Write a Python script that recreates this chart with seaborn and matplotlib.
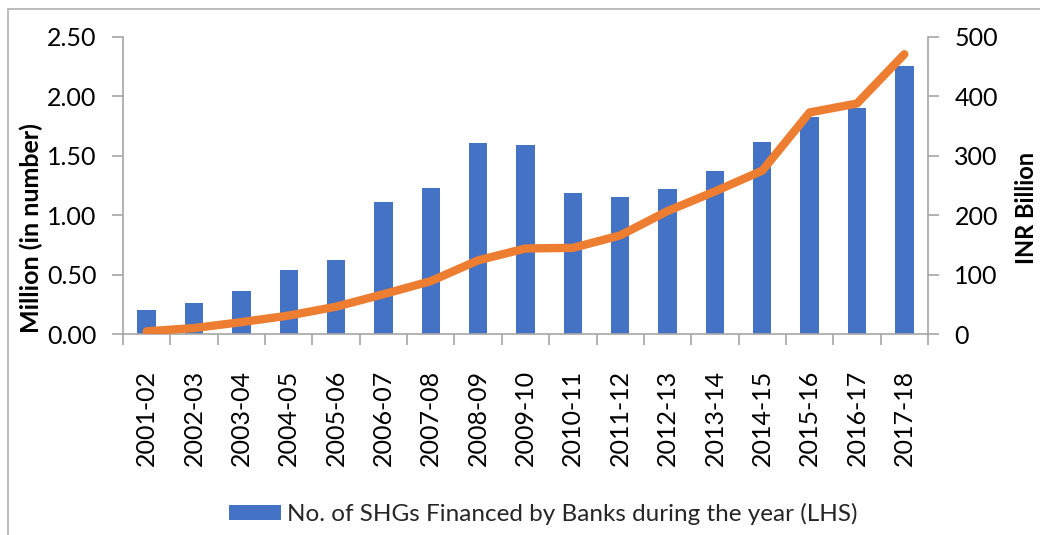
import numpy as np
import pandas as pd
import matplotlib
matplotlib.use("Agg")
import matplotlib.pyplot as plt
import seaborn as sns
from matplotlib.patches import Patch, Rectangle
from matplotlib.ticker import FixedLocator, FormatStrFormatter

# ---- data ----
years = ["2001-02", "2002-03", "2003-04", "2004-05", "2005-06", "2006-07",
         "2007-08", "2008-09", "2009-10", "2010-11", "2011-12", "2012-13",
         "2013-14", "2014-15", "2015-16", "2016-17", "2017-18"]
shgs_million = [0.20, 0.26, 0.36, 0.54, 0.62, 1.11, 1.23, 1.61, 1.59, 1.19,
                1.15, 1.22, 1.37, 1.62, 1.83, 1.90, 2.26]
loans_inr_billion = [4.5, 10, 20, 31, 46, 67, 89, 124, 144, 145,
                     166, 207, 240, 275, 373, 388, 471]
left_ticks = [0.0, 0.5, 1.0, 1.5, 2.0, 2.5]
right_ticks = [0, 100, 200, 300, 400, 500]
left_label = "Million (in number)"
right_label = "INR Billion"
legend_label = "No. of SHGs Financed by Banks during the year (LHS)"

BAR = "#4472C4"
LINE = "#ED7D31"
AXC = "#a6a6a6"

sns.set_theme(style="white")
plt.rcParams['font.family'] = ['Lato', 'DejaVu Sans']

W, H = 1040, 535
fig = plt.figure(figsize=(W / 100, H / 100), dpi=100)
fig.patch.set_facecolor("white")

x0, x1, ytop, ybot = 123, 928, 37, 334
ax = fig.add_axes([x0 / W, 1 - ybot / H, (x1 - x0) / W, (ybot - ytop) / H])

df = pd.DataFrame({"year": years, "shg": shgs_million, "loan": loans_inr_billion})
df["pos"] = np.arange(len(df))

sns.barplot(data=df, x="year", y="shg", ax=ax, color=BAR, saturation=1,
            width=0.39, linewidth=0)

ax2 = ax.twinx()
sns.lineplot(data=df, x="pos", y="loan", ax=ax2, color=LINE, linewidth=6,
             sort=False, solid_capstyle="round", solid_joinstyle="round")

n = len(years)
ax.set_xlim(-0.5, n - 0.5)
ax.set_ylim(0, 2.5)
ax2.set_ylim(0, 500)

ax.set_yticks(left_ticks)
ax.yaxis.set_major_formatter(FormatStrFormatter("%.2f"))
ax2.set_yticks(right_ticks)

ax.set_xticks(np.arange(n))
ax.set_xticklabels(years, rotation=90)
ax.xaxis.set_minor_locator(FixedLocator(np.arange(-0.5, n, 1.0)))

tick_fs = 18
ax.tick_params(axis="x", which="major", length=0, pad=26, labelsize=tick_fs,
               colors="black")
ax.tick_params(axis="x", which="minor", length=8, width=1.2, color=AXC,
               direction="out", bottom=True)
ax.tick_params(axis="y", length=8, width=1.2, color=AXC, direction="out",
               pad=11, labelsize=tick_fs, labelcolor="black", left=True)
ax2.tick_params(axis="y", length=8, width=1.2, color=AXC, direction="out",
                pad=11, labelsize=tick_fs, labelcolor="black", right=True)

for s in ["top", "right"]:
    ax.spines[s].set_visible(False)
for s in ["left", "bottom"]:
    ax.spines[s].set_color(AXC)
    ax.spines[s].set_linewidth(1.2)
for s in ["top", "left", "bottom"]:
    ax2.spines[s].set_visible(False)
ax2.spines["right"].set_color(AXC)
ax2.spines["right"].set_linewidth(1.2)

ax.set_xlabel("")
ax2.set_xlabel("")
ax.set_ylabel(left_label, fontsize=18, fontweight="bold", color="black")
ax.yaxis.label.set_va("center")
ax.yaxis.set_label_coords((31.5 - x0) / (x1 - x0), (ybot - 228) / (ybot - ytop))
ax2.set_ylabel(right_label, fontsize=17, fontweight="bold", color="black")
ax2.yaxis.label.set_va("center")
ax2.yaxis.set_label_coords((1026 - x0) / (x1 - x0), (ybot - 207.5) / (ybot - ytop))

ax.grid(False)
ax2.grid(False)
ax.set_zorder(1)
ax2.set_zorder(2)
ax.patch.set_visible(False)
ax2.patch.set_visible(False)

fig.legend(handles=[Patch(facecolor=BAR, edgecolor="none", label=legend_label)],
           loc="center", bbox_to_anchor=(543 / W, 1 - 514 / H), frameon=False,
           fontsize=17.5, handlelength=2.14, handleheight=0.62, handletextpad=0.25)

fig.patches.append(Rectangle((8 / W, -0.05), 1.1, (H - 9) / H + 0.05,
                             transform=fig.transFigure, fill=False,
                             edgecolor="#b0b0b0", linewidth=1.2, zorder=-1))

fig.savefig("out.png", dpi=100, facecolor="white")
